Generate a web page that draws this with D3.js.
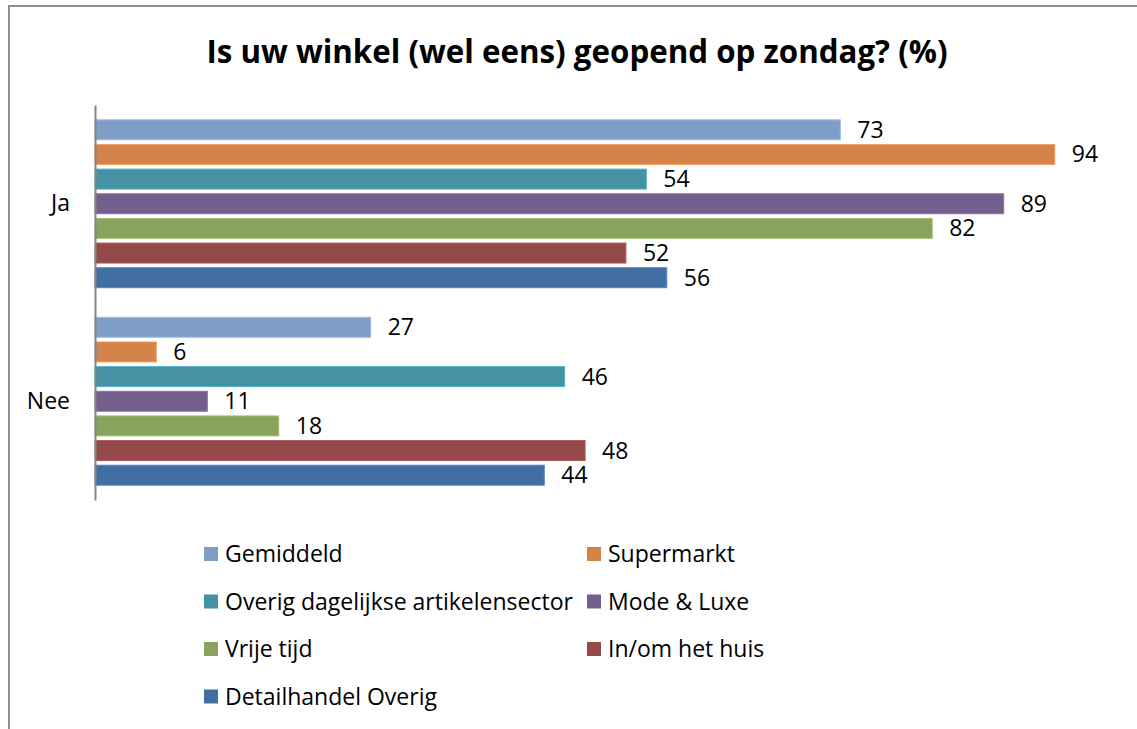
<!DOCTYPE html>
<html>
<head>
<meta charset="utf-8">
<script src="https://cdn.jsdelivr.net/npm/d3@7"></script>
<style>
  body { margin: 0; background: #fff; }
  svg  { display: block; font-family: "Open Sans", sans-serif; }
</style>
</head>
<body>
<div id="chart"></div>
<script>
var title      = "Is uw winkel (wel eens) geopend op zondag? (%)";
var categories = ["Ja", "Nee"];
var series     = ["Gemiddeld", "Supermarkt", "Overig dagelijkse artikelensector", "Mode & Luxe",
                  "Vrije tijd", "In/om het huis", "Detailhandel Overig"];
var colors     = ["#7f9ec6", "#d2844b", "#4592a5", "#725f8e", "#89a25e", "#944a4a", "#426fa3"];
var valuesJa   = [73, 94, 54, 89, 82, 52, 56];
var valuesNee  = [27, 6, 46, 11, 18, 48, 44];

var width  = 1137,
    height = 729;

var rows = [];
series.forEach(function (s, i) {
  rows.push({cat: "Ja",  series: s, i: i, value: valuesJa[i]});
  rows.push({cat: "Nee", series: s, i: i, value: valuesNee[i]});
});

var svg = d3.select("#chart").append("svg")
  .attr("width", width)
  .attr("height", height);

// chart frame (runs off the right and bottom of the picture)
svg.append("rect")
  .attr("x", 9).attr("y", 6)
  .attr("width", width + 20).attr("height", height + 20)
  .attr("fill", "#fff")
  .attr("stroke", "#8e8e8e")
  .attr("stroke-width", 2);

svg.append("text")
  .attr("x", 577).attr("y", 63)
  .attr("text-anchor", "middle")
  .attr("font-size", 31.3)
  .attr("font-weight", "bold")
  .attr("fill", "#000")
  .text(title);

var x = d3.scaleLinear().domain([0, 100]).range([95, 1116]);

var y = d3.scaleBand().domain(categories).range([105, 500]);

var ySeries = d3.scaleBand().domain(series)
  .range([0, y.bandwidth()])
  .paddingInner(0.19)
  .paddingOuter(0.6);

var color = d3.scaleOrdinal().domain(series).range(colors);

svg.selectAll("rect.bar")
  .data(rows)
  .enter().append("rect")
  .attr("class", "bar")
  .attr("x", x(0))
  .attr("y", function (d) { return y(d.cat) + ySeries(d.series); })
  .attr("width", function (d) { return x(d.value) - x(0); })
  .attr("height", ySeries.bandwidth())
  .attr("fill", function (d) { return color(d.series); })
  .attr("stroke", function (d) { return d3.color(color(d.series)).brighter(0.5); })
  .attr("stroke-width", 1);

svg.selectAll("text.val")
  .data(rows)
  .enter().append("text")
  .attr("class", "val")
  .attr("x", function (d) { return x(d.value) + 17; })
  .attr("y", function (d) { return y(d.cat) + ySeries(d.series) + ySeries.bandwidth() / 2; })
  .attr("dy", "0.35em")
  .attr("font-size", 23)
  .attr("fill", "#000")
  .text(function (d) { return d.value; });

// category axis
var yAxis = d3.axisLeft(y).tickSize(0).tickPadding(25);
var gy = svg.append("g")
  .attr("transform", "translate(" + x(0) + ",0)")
  .call(yAxis);
gy.select(".domain").attr("stroke", "#868686").attr("stroke-width", 2);
gy.selectAll("text")
  .attr("font-family", "Open Sans, sans-serif")
  .attr("font-size", 23)
  .attr("fill", "#000");

// legend
var legend = svg.selectAll("g.legend")
  .data(series)
  .enter().append("g")
  .attr("class", "legend")
  .attr("transform", function (d, i) {
    return "translate(" + (i % 2 ? 587 : 204) + "," + (554 + Math.floor(i / 2) * 47.5) + ")";
  });

legend.append("rect")
  .attr("x", 0).attr("y", -7)
  .attr("width", 14).attr("height", 14)
  .attr("fill", function (d) { return color(d); });

legend.append("text")
  .attr("x", 21)
  .attr("dy", "0.35em")
  .attr("font-size", 23)
  .attr("fill", "#000")
  .text(function (d) { return d; });
</script>
</body>
</html>
